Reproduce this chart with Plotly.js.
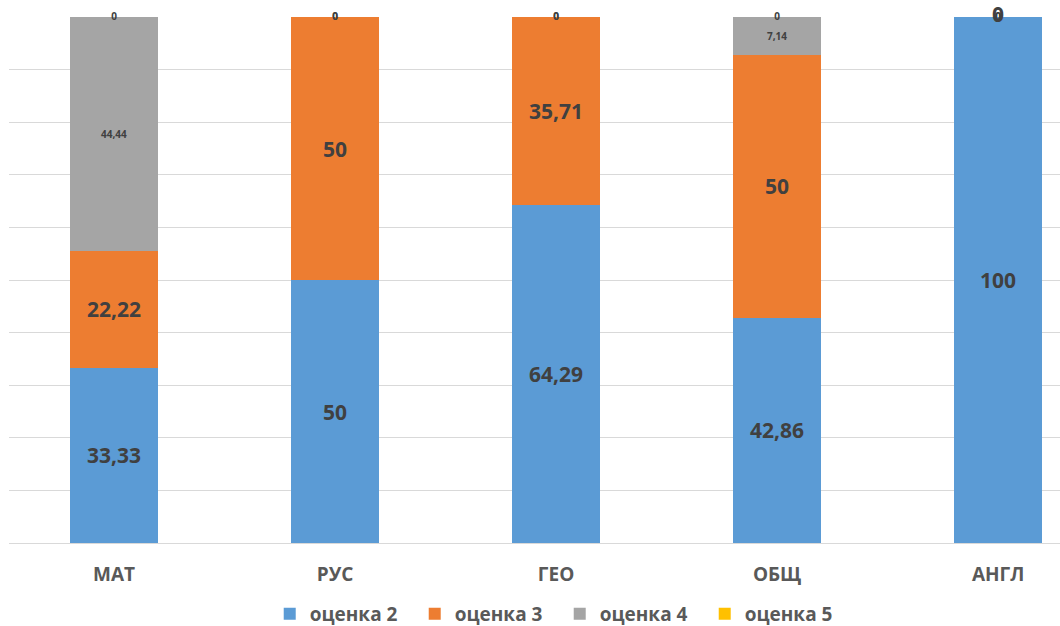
<!DOCTYPE html>
<html>
<head>
<meta charset="utf-8">
<script src="https://cdn.plot.ly/plotly-3.0.1.min.js"></script>
<style>html,body{margin:0;padding:0;background:#fff;}#chart{width:1060px;height:626px;}</style>
</head>
<body>
<div id="chart"></div>
<script>
const categories = ['МАТ', 'РУС', 'ГЕО', 'ОБЩ', 'АНГЛ'];
const seriesNames = ['оценка 2', 'оценка 3', 'оценка 4', 'оценка 5'];
const grade2 = [33.33, 50, 64.29, 42.86, 100];
const grade3 = [22.22, 50, 35.71, 50, 0];
const grade4 = [44.44, 0, 0, 7.14, 0];
const grade5 = [0, 0, 0, 0, 0];

const seriesValues = [grade2, grade3, grade4, grade5];
const colors = ['#5B9BD5', '#ED7D31', '#A5A5A5', '#FFC000'];
const labelSizes = [21, 21, 10, 10];
const FONT = '"Open Sans", "DejaVu Sans", sans-serif';

function fmt(v) { return String(v).replace('.', ','); }

const traces = [];
seriesValues.forEach((vals, i) => {
  traces.push({
    type: 'bar',
    name: seriesNames[i],
    x: categories,
    y: vals,
    marker: { color: colors[i] },
    text: vals.map(v => v === 0 ? '' : fmt(v)),
    textposition: 'inside',
    insidetextanchor: 'middle',
    textangle: 0,
    constraintext: 'none',
    textfont: { family: FONT, size: labelSizes[i], color: '#404040', weight: 700 },
    hoverinfo: 'skip'
  });
});

// labels for zero-height segments, placed at the stacked position
const cum = categories.map(() => 0);
seriesValues.forEach((vals, i) => {
  const xs = [], ys = [], ts = [];
  vals.forEach((v, j) => {
    cum[j] += v;
    if (v === 0) { xs.push(categories[j]); ys.push(cum[j]); ts.push('0'); }
  });
  if (xs.length) {
    traces.push({
      type: 'scatter',
      mode: 'text',
      x: xs, y: ys, text: ts,
      textposition: 'middle center',
      textfont: { family: FONT, size: labelSizes[i], color: '#404040', weight: 700 },
      showlegend: false,
      cliponaxis: false,
      hoverinfo: 'skip'
    });
  }
});

const layout = {
  width: 1060,
  height: 626,
  margin: { l: 9, r: 0, t: 17, b: 83, autoexpand: false },
  paper_bgcolor: '#ffffff',
  plot_bgcolor: '#ffffff',
  barmode: 'stack',
  bargap: 0.6,
  showlegend: true,
  legend: {
    orientation: 'h',
    x: 0.524, xanchor: 'center',
    y: -0.135, yanchor: 'middle',
    font: { family: FONT, size: 19, color: '#595959', weight: 700 },
    itemwidth: 30,
    entrywidth: 100,
    entrywidthmode: 'pixels',
    traceorder: 'normal'
  },
  xaxis: {
    type: 'category',
    range: [-0.475, 4.28],
    showgrid: false,
    showline: false,
    zeroline: false,
    ticks: '',
    tickfont: { family: FONT, size: 19, color: '#595959', weight: 700 },
    ticklabelstandoff: 18
  },
  yaxis: {
    range: [0, 100],
    dtick: 10,
    showgrid: true,
    gridcolor: '#d9d9d9',
    gridwidth: 1,
    showticklabels: false,
    zeroline: true,
    zerolinecolor: '#d9d9d9',
    zerolinewidth: 1,
    showline: false,
    ticks: ''
  }
};

Plotly.newPlot('chart', traces, layout, { displayModeBar: false, staticPlot: true });
</script>
</body>
</html>
